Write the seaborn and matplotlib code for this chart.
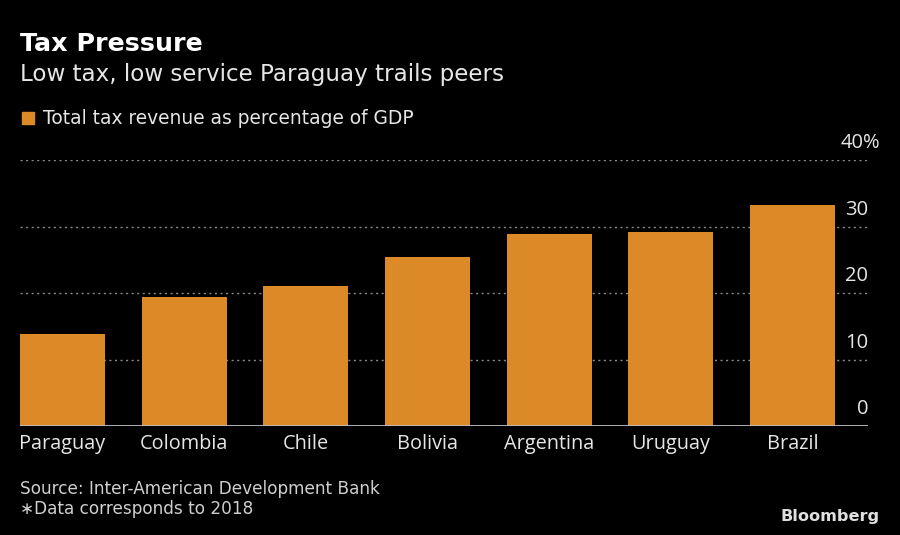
import matplotlib
matplotlib.use("Agg")
import matplotlib.pyplot as plt
import matplotlib.transforms as mtransforms
import seaborn as sns
import pandas as pd

countries = ["Paraguay", "Colombia", "Chile", "Bolivia", "Argentina", "Uruguay", "Brazil"]
tax_pct = [13.9, 19.4, 21.0, 25.4, 28.8, 29.2, 33.2]
y_ticks = [0, 10, 20, 30, 40]
y_tick_labels = ["0", "10", "20", "30", "40%"]

title = "Tax Pressure"
subtitle = "Low tax, low service Paraguay trails peers"
legend_label = "Total tax revenue as percentage of GDP"
source_lines = ["Source: Inter-American Development Bank", "\u2217Data corresponds to 2018"]

BAR = "#DC8A28"
BG = "#000000"
TXT = "#E6E6E6"

sns.set_theme(style="dark")
plt.rcParams["font.family"] = ["DejaVu Sans"]

df = pd.DataFrame({"country": countries, "value": tax_pct})

fig = plt.figure(figsize=(9, 5.35), dpi=100, facecolor=BG)
ax = fig.add_axes([20/900, 1-426/535, 848/900, 266/535])
ax.set_facecolor(BG)

sns.barplot(data=df, x="country", y="value", color=BAR, width=0.70,
            saturation=1, ax=ax, zorder=2, edgecolor="none", linewidth=0)

ax.set_ylim(0, 40)
ax.set_xlim(-0.35, 6.62)
for v in y_ticks[1:]:
    ax.axhline(v, color="#8a8a8a", lw=1.0, ls=(0, (1.5, 2.5)), zorder=1)
ax.axhline(0, color="#bdbdbd", lw=1.3, zorder=3)

ax.set_yticks([])
ax.set_xlabel("")
ax.set_ylabel("")
for s in ax.spines.values():
    s.set_visible(False)
ax.tick_params(axis="x", length=0, pad=6, labelsize=14.3, labelcolor=TXT)
for lab in ax.get_xticklabels():
    lab.set_fontfamily("Open Sans")

trans = mtransforms.blended_transform_factory(ax.transAxes, ax.transData)
for v, lbl in zip(y_ticks, y_tick_labels):
    xoff = 1.0 + (12/848 if lbl.endswith("%") else 0.0)
    ax.text(xoff, v + 1.0, lbl, transform=trans, ha="right", va="bottom",
            fontsize=14.5, color=TXT, family="Open Sans")

fig.text(20/900, 1-44/535, title, fontsize=18.3, fontweight="bold", color="white",
         va="center", ha="left")
fig.text(20/900, 1-74/535, subtitle, fontsize=16.6, color=TXT, va="center", ha="left")
fig.patches.append(plt.Rectangle((22/900, 1-124/535), 12/900, 12/535,
                                 transform=fig.transFigure, color=BAR, figure=fig))
fig.text(43/900, 1-118/535, legend_label, fontsize=13.4, color=TXT, va="center", ha="left")
fig.text(20/900, 1-489/535, source_lines[0], fontsize=12.2, color="#CFCFCF",
         va="center", ha="left", family="Liberation Sans Narrow")
fig.text(20/900, 1-509/535, source_lines[1], fontsize=12.2, color="#CFCFCF",
         va="center", ha="left", family="Liberation Sans Narrow")
fig.text(880/900, 1-517/535, "Bloomberg", fontsize=11.6, fontweight="bold",
         color="#E0E0E0", va="center", ha="right")

fig.savefig("out.png", dpi=100, facecolor=BG)
